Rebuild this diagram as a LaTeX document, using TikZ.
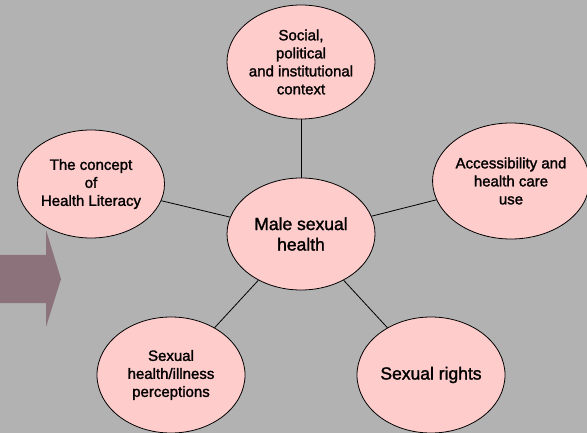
\documentclass[tikz,border=0pt]{standalone}
\usepackage{fontspec}
\setmainfont{Liberation Sans}[FakeBold=1.6]
\usetikzlibrary{shapes.geometric}

\def\scale{1}
\def\smalltext{\fontsize{15}{18}\selectfont}
\def\bigtext{\fontsize{17.5}{20.5}\selectfont}
\colorlet{slide gray}{black!30}
\definecolor{bubble area}{RGB}{255,204,204}
\definecolor{arrow area}{RGB}{140,115,123}
\tikzset{
  bubble/.style={ellipse, draw=black, fill=bubble area, line width=0.8pt,
    inner sep=0pt, align=center, minimum width=148pt, minimum height=114pt, font=\smalltext},
  hub/.style={bubble, font=\bigtext}
  }
\tikzstyle{spoke} = [draw, line width=0.8pt, -]

\begin{document}
\begin{tikzpicture}[x=1pt, y=-1pt, scale=\scale]
   \fill[slide gray] (0,0) rectangle (587,433);
   \useasboundingbox (0,0) rectangle (587,433);

   % block arrow on the left edge
   \fill[arrow area] (0,255) -- (46,255) -- (46,230) -- (61,279)
        -- (46,327) -- (46,303) -- (0,303) -- cycle;

   \node[hub, minimum height=112pt] (male) at (301,234) {Male sexual\\health};

   \node[bubble] (context) at (301,62) {Social,\\political\\and institutional\\context};
   \node[bubble, minimum width=147pt, minimum height=108pt] (literacy) at (91,184) {The concept\\of\\Health Literacy};
   \node[bubble, minimum width=147pt, minimum height=116pt] (access) at (511,181) {Accessibility and\\health care\\use};
   \node[bubble, minimum height=116pt] (percept) at (171,375) {Sexual\\health/illness\\perceptions};
   \node[hub, minimum height=116pt] (rights) at (431,375) {Sexual rights};

   \path[spoke] (male) -- (context);
   \path[spoke] (male) -- (literacy);
   \path[spoke] (male) -- (access);
   \path[spoke] (male) -- (percept);
   \path[spoke] (male) -- (rights);
\end{tikzpicture}
\end{document}
